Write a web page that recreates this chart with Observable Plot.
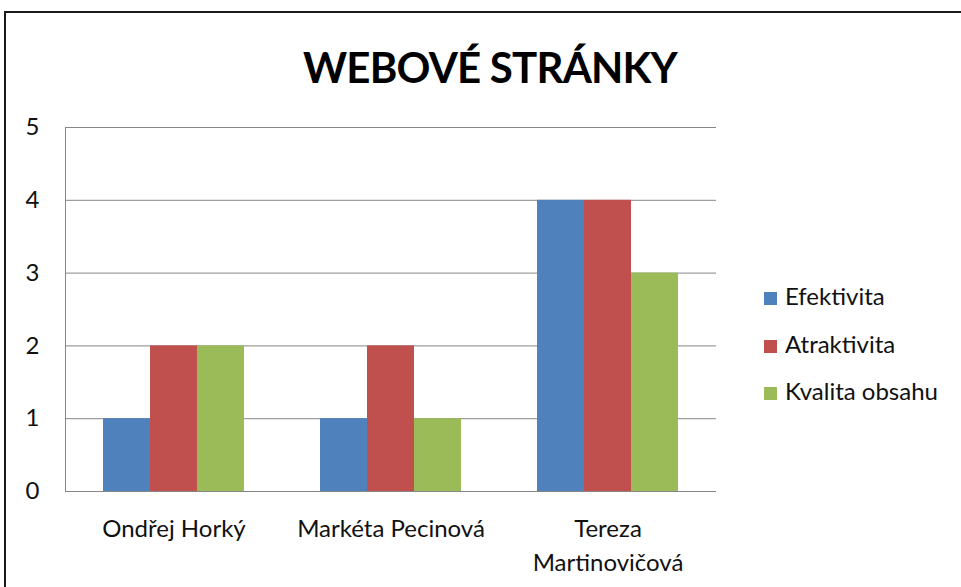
<!DOCTYPE html>
<html><head><meta charset="utf-8">
<script src="https://cdn.jsdelivr.net/npm/d3@7"></script>
<script src="https://cdn.jsdelivr.net/npm/@observablehq/plot@0.6"></script>
<style>
body{margin:0;background:#fff;}
#wrap{position:relative;width:961px;height:587px;overflow:hidden;font-family:Lato,"Open Sans",sans-serif;background:#fff;}
#border{position:absolute;left:4px;top:11px;width:1200px;height:1200px;border-left:2px solid #1a1a1a;border-top:2px solid #1a1a1a;pointer-events:none;}
#title{position:absolute;left:490px;top:42px;transform:translateX(-50%);font-weight:700;font-size:42px;letter-spacing:-0.8px;line-height:1.2;white-space:nowrap;color:#000;}
#chart{position:absolute;left:0;top:0;}
#legend{position:absolute;left:764px;top:273px;font-size:24px;line-height:1.2;color:#111;}
.item{display:flex;align-items:center;height:47.5px;}
.sw{width:13px;height:13px;margin-right:8px;margin-top:4px;}
</style></head>
<body>
<div id="wrap">
  <div id="chart"></div>
  <div id="title">WEBOVÉ STRÁNKY</div>
  <div id="legend"></div>
  <div id="border"></div>
</div>
<script>
const people = ["Ondřej Horký", "Markéta Pecinová", "Tereza Martinovičová"];
const personLabels = ["Ondřej Horký", "Markéta Pecinová", "Tereza\nMartinovičová"];
const series = ["Efektivita", "Atraktivita", "Kvalita obsahu"];
const efektivita = [1, 1, 4];
const atraktivita = [2, 2, 4];
const kvalitaObsahu = [2, 1, 3];
const colors = ["#4F81BD", "#C0504D", "#9BBB59"];
const yTicks = [0, 1, 2, 3, 4, 5];

const values = [efektivita, atraktivita, kvalitaObsahu];
const data = [];
people.forEach((p, i) => series.forEach((s, j) => data.push({person: p, series: s, value: values[j][i]})));

const chart = Plot.plot({
  width: 961, height: 587,
  marginLeft: 64, marginRight: 244, marginTop: 127, marginBottom: 96,
  style: {fontFamily: "Lato, 'Open Sans', sans-serif", fontSize: "24px", color: "#111", background: "transparent"},
  fx: {domain: people, padding: 0, label: null, axis: null},
  x: {domain: series, paddingInner: 0, paddingOuter: 0.77, axis: null},
  y: {domain: [0, 5], label: null, axis: null},
  color: {domain: series, range: colors},
  marks: [
    Plot.ruleY(yTicks, {stroke: "#868686", strokeOpacity: 1}),
    Plot.frame({anchor: "left", stroke: "#868686", facet: "super"}),
    Plot.barY(data, {fx: "person", x: "series", y: "value", fill: "series"}),
    Plot.axisY(yTicks, {tickSize: 0, tickPadding: 26, fontSize: 24, label: null, tickFormat: "d"}),
    Plot.axisFx({anchor: "bottom", tickSize: 0, tickPadding: 22, lineHeight: 1.4, fontSize: 24, label: null,
      tickFormat: d => personLabels[people.indexOf(d)]})
  ]
});
document.getElementById("chart").appendChild(chart);

const legend = document.getElementById("legend");
series.forEach((s, i) => {
  const it = document.createElement("div");
  it.className = "item";
  it.innerHTML = `<div class="sw" style="background:${colors[i]}"></div><span>${s}</span>`;
  legend.appendChild(it);
});
</script>
</body></html>
